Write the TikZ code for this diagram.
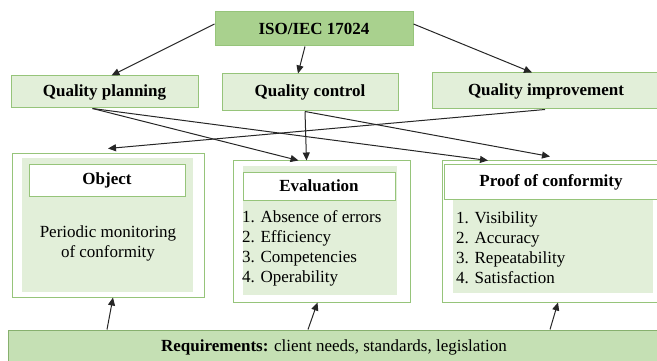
\documentclass[tikz,border=0pt]{standalone}
\usepackage{fontspec}
\setmainfont{Liberation Serif}
\usetikzlibrary{arrows.meta}
\definecolor{isogreen}{HTML}{A9D18E}
\definecolor{lightgreen}{HTML}{E2EFD9}
\definecolor{reqgreen}{HTML}{C5E0B4}
\definecolor{edgegreen}{HTML}{96C47A}
\begin{document}
\begin{tikzpicture}[x=1pt, y=-1pt, >={Triangle[length=8pt,width=7pt]},
  box/.style={rectangle, draw=edgegreen, line width=1pt, inner sep=0pt,
    font=\fontsize{17}{20}\selectfont\bfseries},
  top node/.style={box, fill=lightgreen, minimum height=34pt},
  outer node/.style={box, fill=white},
  shade node/.style={rectangle, fill=lightgreen, inner sep=0pt},
  title node/.style={box, fill=white},
  list node/.style={inner sep=0pt, align=left, font=\fontsize{17}{20}\selectfont},
  every edge/.style={draw=black!85, line width=1pt}]
\useasboundingbox (0,0) rectangle (657,361);
% top row
\node [box, fill=isogreen, minimum width=198pt, minimum height=34pt] (iso) at (314,29) {ISO/IEC 17024};
\node [top node, minimum width=187pt, minimum height=32pt] (plan) at (104.5,92) {Quality planning};
\node [top node, minimum width=176pt, minimum height=37pt] (ctrl) at (310,92.5) {Quality control};
\node [top node, minimum width=228pt, minimum height=36pt] (impr) at (546,91) {Quality improvement};
% lower boxes
\node [outer node, minimum width=192pt, minimum height=143pt] (object) at (108,225.5) {};
\node [shade node, minimum width=171pt, minimum height=134pt] (objshade) at (107.5,225) {};
\node [title node, minimum width=156pt, minimum height=31pt] (objtitle) at (107,180.5) {Object};
\node [list node, align=center] (objtext) at (108,243) {Periodic monitoring\\of conformity};
\node [outer node, minimum width=177pt, minimum height=141pt] (eval) at (321.5,231.5) {};
\node [shade node, minimum width=154pt, minimum height=129pt] (evalshade) at (320,230.5) {};
\node [title node, minimum width=152pt, minimum height=28pt] (evaltitle) at (319,186) {Evaluation};
\node [list node, anchor=west] (evallist) at (242,248) {1. Absence of errors\\2. Efficiency\\3. Competencies\\4. Operability};
\node [outer node, minimum width=216pt, minimum height=141pt] (proof) at (550,231.5) {};
\node [shade node, minimum width=200pt, minimum height=94pt] (proofshade) at (553,246) {};
\node [title node, minimum width=214pt, minimum height=34pt] (prooftitle) at (551,182) {Proof of conformity};
\node [list node, anchor=west] (prooflist) at (456,248) {1. Visibility\\2. Accuracy\\3. Repeatability\\4. Satisfaction};
% requirements
\node [box, draw=edgegreen!90!black, fill=reqgreen, minimum width=652pt, minimum height=35pt,
  font=\fontsize{17}{20}\selectfont] (req) at (334,347.5) {\textbf{Requirements:} client needs, standards, legislation};
\path[->]
  ([yshift=5pt]iso.west) edge ([xshift=7pt]plan.north)
  ([xshift=-9pt]iso.south) edge ([xshift=-12pt]ctrl.north)
  ([yshift=5pt]iso.east) edge ([xshift=-14pt]impr.north)
  ([xshift=-12pt]plan.south) edge ([xshift=-23pt]eval.north)
  ([xshift=-12pt]plan.south) edge ([xshift=-62pt]proof.north)
  ([xshift=-5pt]ctrl.south) edge ([xshift=-15pt]eval.north)
  ([xshift=-5pt]ctrl.south) edge ([yshift=4pt]proof.north)
  ([xshift=-1pt]impr.south) edge ([yshift=5pt]object.north)
  ([xshift=-227pt]req.north) edge ([xshift=5pt]object.south)
  ([xshift=-26pt]req.north) edge ([xshift=-4pt]eval.south)
  ([xshift=216pt]req.north) edge ([xshift=8pt]proof.south)
  ;
\end{tikzpicture}
\end{document}
